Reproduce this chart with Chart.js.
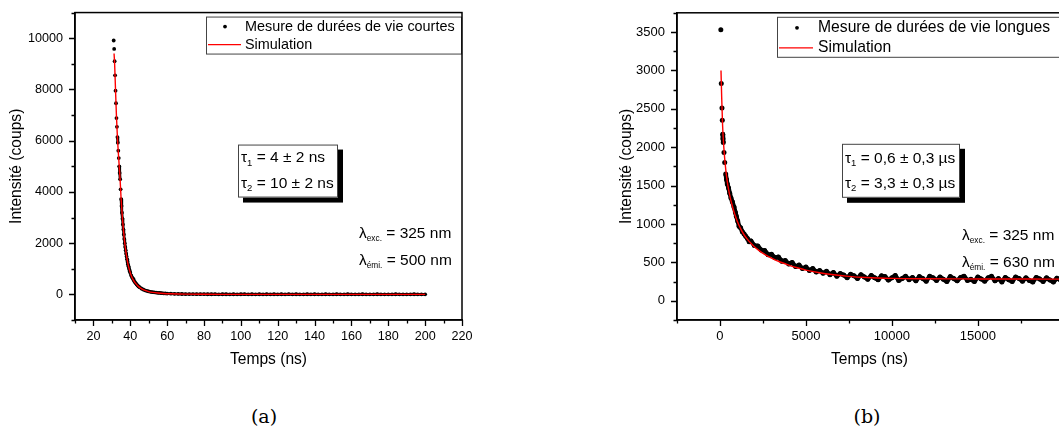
<!DOCTYPE html>
<html>
<head>
<meta charset="utf-8">
<script src="https://cdn.jsdelivr.net/npm/chart.js@4.4.1/dist/chart.umd.min.js"></script>
<style>
body{margin:0;width:1059px;height:429px;overflow:hidden;background:#fff;position:relative}
canvas{position:absolute;top:0}
.cap{position:absolute;top:405px;width:80px;text-align:center;font:19px "DejaVu Serif",serif;line-height:22px;color:#000}
</style>
</head>
<body>
<canvas id="courtes" width="480" height="385" style="left:0"></canvas>
<canvas id="longues" width="520" height="385" style="left:560px"></canvas>
<div class="cap" style="left:224px">(a)</div>
<div class="cap" style="left:827px">(b)</div>
<script>
const FAM = '"Liberation Sans", Arial, sans-serif';
Chart.defaults.font.family = FAM;
Chart.defaults.color = '#000';

// (a) durées de vie courtes : mesure
const tCourt = [
  31, 31.25, 31.5, 31.75, 32, 32.25, 32.5, 32.75, 33, 33.25,
  33.5, 33.75, 34, 34.25, 34.5, 34.75, 35, 35.25, 35.5, 35.75,
  36, 36.25, 36.5, 36.75, 37, 37.25, 37.5, 37.75, 38, 38.25,
  38.5, 38.75, 39, 39.25, 39.5, 39.75, 40, 40.5, 41, 41.5,
  42, 42.5, 43, 43.5, 44, 44.5, 45, 46, 47, 48,
  49, 50, 51, 52, 53, 54, 55, 56, 57, 58,
  59, 60, 62, 64, 66, 68, 70, 72, 74, 76,
  78, 80, 82, 84, 86, 88, 90, 92, 94, 96,
  98, 100, 102, 104, 106, 108, 110, 112, 114, 116,
  118, 120, 122, 124, 126, 128, 130, 132, 134, 136,
  138, 140, 142, 144, 146, 148, 150, 152, 154, 156,
  158, 160, 162, 164, 166, 168, 170, 172, 174, 176,
  178, 180, 182, 184, 186, 188, 190, 192, 194, 196,
  198, 200
];
const cCourt = [
  9910, 9580, 9100, 8550, 7950, 7460, 6880, 6540, 6140, 5920,
  5610, 5320, 5000, 4740, 4490, 4100, 3720, 3450, 3190, 2950,
  2730, 2530, 2340, 2160, 2000, 1850, 1720, 1590, 1480, 1370,
  1270, 1180, 1100, 1030, 960, 900, 840, 740, 660, 600,
  530, 480, 430, 385, 345, 310, 280, 230, 190, 160,
  135, 115, 100, 90, 80, 70, 62, 55, 48, 42,
  37, 33, 27, 22, 18, 15, 13, 11, 10, 9,
  8, 7, 6, 5, 7, 4, 6, 5, 3, 6,
  4, 5, 7, 3, 5, 4, 6, 2, 5, 4,
  6, 3, 5, 4, 7, 3, 5, 2, 4, 6,
  3, 5, 4, 3, 6, 2, 4, 5, 3, 4,
  6, 2, 4, 3, 5, 2, 4, 3, 5, 1,
  4, 3, 2, 5, 3, 4, 2, 3, 5, 2,
  4, 3
];
// (a) simulation
const tSimCourt = [
  31.2, 31.5, 32, 32.5, 33, 33.5, 34, 34.5, 35, 35.5,
  36, 36.5, 37, 37.5, 38, 38.5, 39, 40, 41, 42,
  43, 44, 45, 46, 48, 50, 52, 55, 58, 62,
  66, 70, 80, 90, 100, 120, 150, 200
];
const cSimCourt = [
  9400, 9000, 7950, 6950, 6150, 5550, 5000, 4450, 3750, 3200,
  2750, 2350, 2010, 1730, 1490, 1280, 1100, 840, 650, 520,
  420, 340, 275, 225, 155, 110, 80, 52, 35, 22,
  14, 9, 4, 2, 1, 0, 0, 0
];

// (b) durées de vie longues : mesure
const tLong = [
  50, 76, 117, 135, 158, 175, 193, 234, 275, 333,
  380, 427, 500, 567, 640, 720, 819, 900, 954, 1030,
  1111, 1200, 1300, 1404, 1500, 1600, 1697,
  1800, 2000, 2200, 2400, 2600, 2800, 3000, 3200, 3400, 3600,
  3800, 4000, 4200, 4400, 4600, 4800, 5000, 5200, 5400, 5600,
  5800, 6000, 6200, 6400, 6600, 6800, 7000, 7200, 7400, 7600,
  7800, 8000, 8200, 8400, 8600, 8800, 9000, 9200, 9400, 9600,
  9800, 10000, 10200, 10400, 10600, 10800, 11000, 11200, 11400, 11600,
  11800, 12000, 12200, 12400, 12600, 12800, 13000, 13200, 13400, 13600,
  13800, 14000, 14200, 14400, 14600, 14800, 15000, 15200, 15400, 15600,
  15800, 16000, 16200, 16400, 16600, 16800, 17000, 17200, 17400, 17600,
  17800, 18000, 18200, 18400, 18600, 18800, 19000, 19200, 19400, 19600,
  19800, 20000
];
const cLong = [
  3530, 2830, 2510, 2350, 2170, 2110, 2060, 1930, 1800, 1650,
  1580, 1520, 1470, 1400, 1340, 1290, 1220, 1150, 1100, 1040,
  970, 950, 900, 870, 840, 810, 770,
  780, 720, 715, 660, 655, 600, 605, 560, 570, 515,
  525, 480, 500, 445, 465, 420, 440, 395, 420, 375,
  395, 360, 385, 340, 370, 320, 355, 335, 300, 345,
  325, 290, 340, 310, 280, 330, 300, 275, 325, 315,
  270, 300, 330, 265, 290, 320, 275, 305, 260, 315,
  290, 255, 320, 300, 265, 310, 280, 250, 315, 290,
  260, 305, 320, 265, 280, 250, 310, 285, 255, 300,
  320, 260, 290, 245, 305, 275, 250, 310, 290, 255,
  300, 265, 245, 305, 285, 250, 300, 270, 245, 295,
  275, 255
];
// (b) simulation
const tSimLong = [
  60, 100, 150, 200, 250, 300, 400, 500, 600, 700,
  800, 900, 1000, 1200, 1400, 1600, 1800, 2000, 2300, 2600,
  3000, 3500, 4000, 4500, 5000, 5800, 6500, 7500, 8500, 10000,
  12000, 14000, 16000, 18000, 20000
];
const cSimLong = [
  3000, 2650, 2300, 2080, 1920, 1790, 1590, 1450, 1340, 1250,
  1170, 1100, 1040, 940, 860, 800, 750, 705, 650, 605,
  555, 505, 465, 430, 400, 365, 342, 318, 303, 292,
  287, 285, 284, 283, 282
];

// graduations
const xTicksCourt = [10, 20, 30, 40, 50, 60, 70, 80, 90, 100, 110, 120, 130, 140, 150, 160, 170, 180, 190, 200, 210, 220];
const xLabelsCourt = [20, 40, 60, 80, 100, 120, 140, 160, 180, 200, 220];
const yTicksCourt = [-1000, 0, 1000, 2000, 3000, 4000, 5000, 6000, 7000, 8000, 9000, 10000, 11000];
const yLabelsCourt = [0, 2000, 4000, 6000, 8000, 10000];
const xTicksLong = [-2500, 0, 2500, 5000, 7500, 10000, 12500, 15000, 17500];
const xLabelsLong = [0, 5000, 10000, 15000];
const yTicksLong = [-250, 0, 250, 500, 750, 1000, 1250, 1500, 1750, 2000, 2250, 2500, 2750, 3000, 3250, 3500, 3750];
const yLabelsLong = [0, 500, 1000, 1500, 2000, 2500, 3000, 3500];

function pts(xs, ys) {
  return xs.map((x, i) => ({x: x, y: ys[i]}));
}

// texte avec indice (tau_1, lambda_exc. ...)
function subText(ctx, x, y, parts, size, subSize, drop) {
  ctx.textBaseline = 'middle';
  ctx.textAlign = 'left';
  ctx.fillStyle = '#000';
  ctx.font = size + 'px ' + FAM;
  ctx.fillText(parts[0], x, y);
  x += ctx.measureText(parts[0]).width;
  ctx.font = subSize + 'px ' + FAM;
  ctx.fillText(parts[1], x, y + drop);
  x += ctx.measureText(parts[1]).width;
  ctx.font = size + 'px ' + FAM;
  ctx.fillText(parts[2], x, y);
}

function decorFor(d) {
  return {
    id: 'decor',
    afterDraw(chart) {
      const {ctx, chartArea: a} = chart;
      const x = chart.scales.x, y = chart.scales.y;
      ctx.save();
      // tick marks (major / minor)
      ctx.strokeStyle = '#000';
      ctx.lineWidth = 1.3;
      ctx.beginPath();
      x.ticks.forEach(t => {
        const px = Math.round(x.getPixelForValue(t.value)) + 0.5;
        const len = d.xLabels.includes(t.value) ? 6 : 3.5;
        ctx.moveTo(px, a.bottom);
        ctx.lineTo(px, a.bottom + len);
      });
      y.ticks.forEach(t => {
        const py = Math.round(y.getPixelForValue(t.value)) + 0.5;
        const len = d.yLabels.includes(t.value) ? 6 : 3.5;
        ctx.moveTo(a.left, py);
        ctx.lineTo(a.left - len, py);
      });
      ctx.stroke();

      // legend
      const L = d.legend;
      const lx = a.right - L.w, ly = a.top + 4;
      ctx.fillStyle = '#fff';
      ctx.fillRect(lx, ly, L.w, L.h);
      ctx.lineWidth = 1;
      ctx.strokeStyle = '#444';
      ctx.strokeRect(lx + 0.5, ly + 0.5, L.w - 1, L.h - 1);
      ctx.fillStyle = '#000';
      ctx.beginPath();
      ctx.arc(lx + L.dot, ly + L.r1, 1.9, 0, Math.PI * 2);
      ctx.fill();
      ctx.strokeStyle = '#ff0000';
      ctx.lineWidth = 1.3;
      ctx.beginPath();
      ctx.moveTo(lx + 2, ly + L.r2);
      ctx.lineTo(lx + L.lineEnd, ly + L.r2);
      ctx.stroke();
      ctx.font = L.size + 'px ' + FAM;
      ctx.textBaseline = 'middle';
      ctx.textAlign = 'left';
      ctx.fillText(L.texts[0], lx + L.tx, ly + L.r1);
      ctx.fillText(L.texts[1], lx + L.tx, ly + L.r2);

      // tau box with shadow
      const T = d.tau;
      const bx = a.left + T.x, by = a.top + T.y;
      ctx.fillStyle = '#000';
      ctx.fillRect(bx + 5, by + 5, T.w, T.h);
      ctx.fillStyle = '#fff';
      ctx.fillRect(bx, by, T.w, T.h);
      ctx.strokeStyle = '#444';
      ctx.lineWidth = 1;
      ctx.strokeRect(bx + 0.5, by + 0.5, T.w - 1, T.h - 1);
      subText(ctx, bx + 3, by + T.l1, T.lines[0], 15.5, 9.5, 5);
      subText(ctx, bx + 3, by + T.l2, T.lines[1], 15.5, 9.5, 5);

      // lambda
      const W = d.lambda;
      subText(ctx, a.right - W.dx, a.top + W.l1, W.lines[0], 15.5, 8.3, 5);
      subText(ctx, a.right - W.dx, a.top + W.l2, W.lines[1], 15.5, 8.3, 5);

      // frame
      ctx.strokeStyle = '#000';
      ctx.lineWidth = 1.5;
      ctx.strokeRect(a.left, a.top, a.right - a.left, a.bottom - a.top);
      ctx.restore();
    }
  };
}

function axis(min, max, ticks, labels, o) {
  return {
    type: 'linear',
    min: min,
    max: max,
    afterBuildTicks: s => { s.ticks = ticks.map(v => ({value: v})); },
    afterFit: s => {
      if (o.width) s.width = o.width;
      if (o.height) s.height = o.height;
    },
    border: {display: true, color: '#000', width: 1.5},
    grid: {drawOnChartArea: false, drawTicks: true, tickLength: 7, tickColor: 'rgba(0,0,0,0)'},
    ticks: {
      autoSkip: false, maxRotation: 0, padding: o.pad, color: '#000',
      font: {size: o.tickSize},
      callback: v => labels.includes(v) ? String(v) : ''
    },
    title: {display: true, text: o.title, color: '#000', font: {size: 15.6}, padding: o.titlePad}
  };
}

function makeChart(id, c) {
  return new Chart(document.getElementById(id), {
    type: 'scatter',
    data: {
      datasets: [
        {
          label: 'Simulation',
          data: pts(c.tSim, c.cSim),
          showLine: true,
          borderColor: '#ff0000',
          borderWidth: 1.4,
          pointRadius: 0,
          cubicInterpolationMode: 'monotone',
          order: 0
        },
        {
          label: c.legend.texts[0],
          data: pts(c.tMes, c.cMes),
          showLine: true,
          borderColor: '#000',
          borderWidth: c.mesWidth,
          borderJoinStyle: 'round',
          pointRadius: c.mesRadius,
          pointBorderWidth: 0,
          pointBackgroundColor: '#000',
          order: 1,
          segment: {
            borderColor: s => Math.abs(s.p1.y - s.p0.y) > 7 ? 'rgba(0,0,0,0)' : '#000'
          }
        }
      ]
    },
    options: {
      responsive: false,
      animation: false,
      devicePixelRatio: 1,
      layout: {padding: {left: c.padL, top: 8, right: 18, bottom: 0}},
      plugins: {legend: {display: false}, tooltip: {enabled: false}},
      scales: {
        x: axis(c.xMin, c.xMax, c.xTicks, c.xLabels,
          {height: 65, pad: 2, tickSize: c.tickSize, title: 'Temps (ns)', titlePad: {top: 0, bottom: 15.6}}),
        y: axis(c.yMin, c.yMax, c.yTicks, c.yLabels,
          {width: c.yWidth, pad: 5, tickSize: c.tickSize, title: 'Intensité (coups)', titlePad: {top: 7.6, bottom: 0}})
      }
    },
    plugins: [decorFor(c)]
  });
}

makeChart('courtes', {
  tMes: tCourt, cMes: cCourt, tSim: tSimCourt, cSim: cSimCourt,
  mesWidth: 2.8, mesRadius: 1.9,
  xMin: 10, xMax: 220, yMin: -1000, yMax: 11000,
  xTicks: xTicksCourt, xLabels: xLabelsCourt, yTicks: yTicksCourt, yLabels: yLabelsCourt,
  padL: 0, yWidth: 75, tickSize: 12.6,
  legend: {w: 256, h: 38, r1: 10, r2: 28, dot: 19, lineEnd: 35, tx: 39, size: 14.4,
    texts: ['Mesure de durées de vie courtes', 'Simulation']},
  tau: {x: 163, y: 132, w: 100, h: 53, l1: 13.5, l2: 39,
    lines: [['τ', '1', ' = 4 ± 2 ns'], ['τ', '2', ' = 10 ± 2 ns']]},
  lambda: {dx: 103, l1: 221, l2: 248,
    lines: [['λ', 'exc.', ' = 325 nm'], ['λ', 'émi.', ' = 500 nm']]}
});

makeChart('longues', {
  tMes: tLong, cMes: cLong, tSim: tSimLong, cSim: cSimLong,
  mesWidth: 4.5, mesRadius: 2.5,
  xMin: -2500, xMax: 19900, yMin: -250, yMax: 3750,
  xTicks: xTicksLong, xLabels: xLabelsLong, yTicks: yTicksLong, yLabels: yLabelsLong,
  padL: 50, yWidth: 67, tickSize: 13,
  legend: {w: 285, h: 41, r1: 11, r2: 31, dot: 20, lineEnd: 36, tx: 41, size: 15.7,
    texts: ['Mesure de durées de vie longues', 'Simulation']},
  tau: {x: 165, y: 131, w: 118, h: 54, l1: 14.5, l2: 40,
    lines: [['τ', '1', ' = 0,6 ± 0,3 µs'], ['τ', '2', ' = 3,3 ± 0,3 µs']]},
  lambda: {dx: 100, l1: 223, l2: 250,
    lines: [['λ', 'exc.', ' = 325 nm'], ['λ', 'émi.', ' = 630 nm']]}
});
</script>
</body>
</html>
